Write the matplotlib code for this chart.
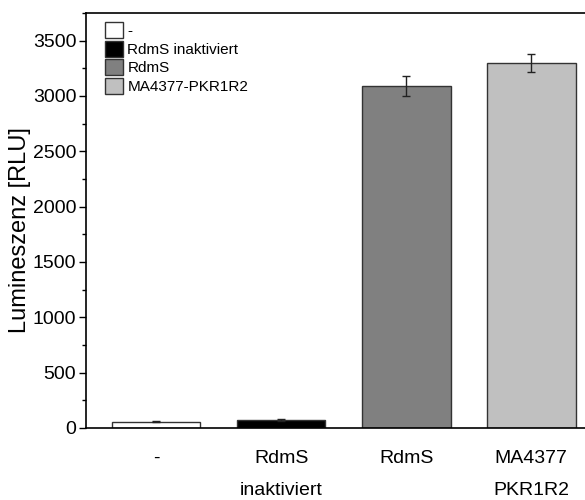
import matplotlib.pyplot as plt
from matplotlib.ticker import MultipleLocator
from matplotlib.patches import Patch

plt.rcParams['font.family'] = ['Liberation Sans', 'DejaVu Sans']

# Daten
labels = ['-', 'RdmS\ninaktiviert', 'RdmS', 'MA4377\nPKR1R2']
legend_labels = ['-', 'RdmS inaktiviert', 'RdmS', 'MA4377-PKR1R2']
values = [57, 72, 3090, 3300]
errors = [5, 8, 90, 80]
colors = ['#ffffff', '#000000', '#808080', '#c0c0c0']

fig = plt.figure(figsize=(5.85, 5.0), dpi=100)
ax = fig.add_axes([86 / 585, 72 / 500, 1 - 86 / 585, (428 - 13) / 500])

pos = [1, 2, 3, 4]
ax.bar(pos, values, width=0.71, color=colors, edgecolor='#333333', linewidth=1.0,
       yerr=errors, capsize=3.2, error_kw=dict(ecolor='#222222', elinewidth=1.0, capthick=1.0))

ax.set_xlim(1 - 0.56, 4.43)
ax.set_ylim(0, 3750)
ax.yaxis.set_major_locator(MultipleLocator(500))
ax.yaxis.set_minor_locator(MultipleLocator(250))
ax.tick_params(axis='y', which='major', direction='out', length=5, width=1, labelsize=14, pad=2)
ax.tick_params(axis='y', which='minor', direction='out', length=3, width=1)
ax.set_xticks(pos)
ax.set_xticklabels(labels, fontsize=14, linespacing=2.1)
ax.tick_params(axis='x', length=0, pad=16)
ax.spines['right'].set_visible(False)
for s in ['left', 'bottom', 'top']:
    ax.spines[s].set_linewidth(1.2)
ax.set_ylabel('Lumineszenz [RLU]', fontsize=17)
ax.yaxis.set_label_coords(-0.11, 0.477)

handles = [Patch(facecolor=c, edgecolor='#333333', linewidth=1.0) for c in colors]
ax.legend(handles, legend_labels, loc='upper left', frameon=False, fontsize=11,
          handlelength=1.15, handleheight=1.25, handletextpad=0.3, labelspacing=0.15,
          borderaxespad=0.2, bbox_to_anchor=(0.02, 1.0))

fig.savefig('out.png', dpi=100)
